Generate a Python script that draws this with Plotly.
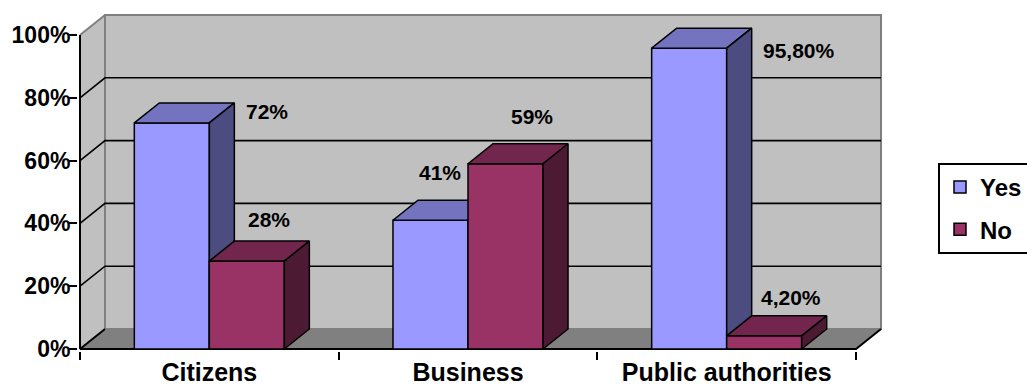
import plotly.graph_objects as go

# ---------------- data ----------------
categories = ["Citizens", "Business", "Public authorities"]
series_names = ["Yes", "No"]
yes_values = [72, 41, 95.8]
no_values = [28, 59, 4.2]
y_ticks = [0, 20, 40, 60, 80, 100]
y_tick_labels = ["0%", "20%", "40%", "60%", "80%", "100%"]

# ---------------- styles ----------------
FONT = "Liberation Sans, Arial, sans-serif"
FRONT = {"Yes": "#9999FF", "No": "#993366"}
TOP = {"Yes": "#7373BF", "No": "#73264D"}
SIDE = {"Yes": "#4C4C80", "No": "#4D1A33"}
WALL = "#C0C0C0"
FLOOR = "#808080"
EDGE = "#808080"

W, H = 1027, 387
ML, MR, MT, MB = 78, 137, 0, 36
PLOT_W = W - ML - MR
PLOT_H = H - MT - MB
PX_X = 258.67          # pixels per category
PX_Y = 3.14            # pixels per percent
DX = 25 / PX_X          # depth offset (x) in data units
DY = 20 / PX_Y          # depth offset (y) in data units
BAR_W = 0.29
x_lo = -2 / PX_X
x_hi = x_lo + PLOT_W / PX_X
y_lo = -2 / PX_Y
y_hi = y_lo + PLOT_H / PX_Y

# per-label pixel shifts (from the top-front centre of each bar)
label_shift = {
    "Yes": [(95, 11), (9, 48), (110, -2)],
    "No": [(22, 42), (26, 47), (27, 38)],
}

n = len(categories)
series_values = {"Yes": yes_values, "No": no_values}

fig = go.Figure()


def poly(xs, ys, fill, line_color=None, lw=0):
    fig.add_trace(go.Scatter(
        x=xs, y=ys, mode="lines", fill="toself", fillcolor=fill,
        line=dict(color=line_color or fill, width=lw),
        showlegend=False, hoverinfo="skip"))


def seg(xs, ys, color, lw):
    fig.add_trace(go.Scatter(
        x=xs, y=ys, mode="lines", line=dict(color=color, width=lw),
        showlegend=False, hoverinfo="skip"))


top = y_ticks[-1]
# back wall
poly([DX, n + DX, n + DX, DX, DX], [DY, DY, top + DY, top + DY, DY], WALL, EDGE, 2)
# left wall
poly([0, 0, DX, DX, 0], [0, top, top + DY, DY, 0], WALL)
seg([0, DX, DX], [top, top + DY, DY], EDGE, 2)
# floor
poly([0, n, n + DX, DX, 0], [0, 0, DY, DY, 0], FLOOR)
# gridlines
gx, gy = [], []
for v in y_ticks[1:-1]:
    gx += [0, DX, n + DX, None]
    gy += [v, v + DY, v + DY, None]
seg(gx, gy, "black", 1.6)
# floor edges
seg([DX, 0, n, n + DX], [DY, 0, 0, DY], "black", 2)

# bars (front, top, side faces) drawn through the data axes
for i, cat in enumerate(categories):
    for j, s in enumerate(series_names):
        v = series_values[s][i]
        x0 = i + 0.5 - BAR_W + j * BAR_W
        x1 = x0 + BAR_W
        poly([x0, x1, x1, x0, x0], [0, 0, v, v, 0], FRONT[s], "black", 1.5)
        poly([x0, x1, x1 + DX, x0 + DX, x0], [v, v, v + DY, v + DY, v], TOP[s], "black", 1.5)
        poly([x1, x1 + DX, x1 + DX, x1, x1], [0, DY, v + DY, v, 0], SIDE[s], "black", 1.5)

# front value axis line
seg([0, 0], [0, top], "black", 2)

# legend-only traces
for s in series_names:
    fig.add_trace(go.Bar(x=[None], y=[None], name=s,
                         marker=dict(color=FRONT[s], line=dict(color="black", width=1.5)),
                         legendgroup=s, hoverinfo="skip"))


def fmt(v):
    if float(v).is_integer():
        return f"{int(v)}%"
    return f"{v:.2f}".replace(".", ",") + "%"


annotations = []
for i, cat in enumerate(categories):
    for j, s in enumerate(series_names):
        v = series_values[s][i]
        xc = i + 0.5 - BAR_W / 2 + j * BAR_W
        sx, sy = label_shift[s][i]
        annotations.append(dict(x=xc, y=v, xref="x", yref="y", text=fmt(v), showarrow=False,
                                xshift=sx, yshift=sy, xanchor="center", yanchor="middle",
                                font=dict(family=FONT, size=21, color="black", weight="bold")))

fig.update_layout(
    width=W, height=H,
    margin=dict(l=ML, r=MR, t=MT, b=MB, autoexpand=False),
    paper_bgcolor="white", plot_bgcolor="white",
    hovermode=False,
    annotations=annotations,
    showlegend=True,
    legend=dict(x=(938 - ML) / PLOT_W, y=(H - MB - 163) / PLOT_H, xanchor="left", yanchor="top",
                bgcolor="white", bordercolor="black", borderwidth=2,
                font=dict(family=FONT, size=24, color="black", weight="bold"),
                traceorder="grouped", tracegroupgap=8, itemwidth=30),
    xaxis=dict(range=[x_lo, x_hi], showgrid=False, zeroline=False, showline=False,
               tickmode="array", tickvals=[i + 0.5 for i in range(n)], ticktext=categories,
               ticks="", automargin=False, ticklabelstandoff=4,
               tickfont=dict(family=FONT, size=25, color="black", weight="bold"),
               minor=dict(tickmode="array", tickvals=list(range(n + 1)), ticks="outside",
                          ticklen=8, tickwidth=2, tickcolor="black", showgrid=False)),
    yaxis=dict(range=[y_lo, y_hi], showgrid=False, zeroline=False, showline=False,
               tickmode="array", tickvals=y_ticks, ticktext=y_tick_labels,
               ticks="outside", ticklen=8, tickwidth=2, tickcolor="black", automargin=False,
               ticklabelstandoff=-6,
               tickfont=dict(family=FONT, size=23, color="black", weight="bold")),
)

fig.write_html("out.html")
